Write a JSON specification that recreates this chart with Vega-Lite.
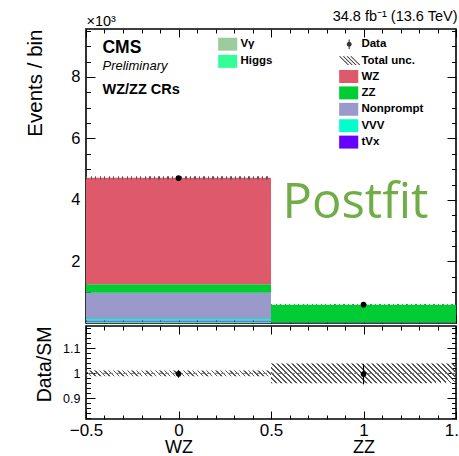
{
  "$schema": "https://vega.github.io/schema/vega-lite/v6.json",
  "autosize": {"type": "pad"},
  "padding": {"left": 24, "top": 8, "right": 0, "bottom": 0},
  "background": "white",
  "params": [
    {
      "name": "hatch",
      "value": [
        {"offset": 0, "color": "#555"}, {"offset": 0.0073, "color": "#555"}, {"offset": 0.0073, "color": "rgba(85,85,85,0)"}, {"offset": 0.0244, "color": "rgba(85,85,85,0)"},
        {"offset": 0.0244, "color": "#555"}, {"offset": 0.0317, "color": "#555"}, {"offset": 0.0317, "color": "rgba(85,85,85,0)"}, {"offset": 0.0488, "color": "rgba(85,85,85,0)"},
        {"offset": 0.0488, "color": "#555"}, {"offset": 0.0561, "color": "#555"}, {"offset": 0.0561, "color": "rgba(85,85,85,0)"}, {"offset": 0.0732, "color": "rgba(85,85,85,0)"},
        {"offset": 0.0732, "color": "#555"}, {"offset": 0.0805, "color": "#555"}, {"offset": 0.0805, "color": "rgba(85,85,85,0)"}, {"offset": 0.0976, "color": "rgba(85,85,85,0)"},
        {"offset": 0.0976, "color": "#555"}, {"offset": 0.1049, "color": "#555"}, {"offset": 0.1049, "color": "rgba(85,85,85,0)"}, {"offset": 0.122, "color": "rgba(85,85,85,0)"},
        {"offset": 0.122, "color": "#555"}, {"offset": 0.1293, "color": "#555"}, {"offset": 0.1293, "color": "rgba(85,85,85,0)"}, {"offset": 0.1463, "color": "rgba(85,85,85,0)"},
        {"offset": 0.1463, "color": "#555"}, {"offset": 0.1536, "color": "#555"}, {"offset": 0.1536, "color": "rgba(85,85,85,0)"}, {"offset": 0.1707, "color": "rgba(85,85,85,0)"},
        {"offset": 0.1707, "color": "#555"}, {"offset": 0.178, "color": "#555"}, {"offset": 0.178, "color": "rgba(85,85,85,0)"}, {"offset": 0.1951, "color": "rgba(85,85,85,0)"},
        {"offset": 0.1951, "color": "#555"}, {"offset": 0.2024, "color": "#555"}, {"offset": 0.2024, "color": "rgba(85,85,85,0)"}, {"offset": 0.2195, "color": "rgba(85,85,85,0)"},
        {"offset": 0.2195, "color": "#555"}, {"offset": 0.2268, "color": "#555"}, {"offset": 0.2268, "color": "rgba(85,85,85,0)"}, {"offset": 0.2439, "color": "rgba(85,85,85,0)"},
        {"offset": 0.2439, "color": "#555"}, {"offset": 0.2512, "color": "#555"}, {"offset": 0.2512, "color": "rgba(85,85,85,0)"}, {"offset": 0.2683, "color": "rgba(85,85,85,0)"},
        {"offset": 0.2683, "color": "#555"}, {"offset": 0.2756, "color": "#555"}, {"offset": 0.2756, "color": "rgba(85,85,85,0)"}, {"offset": 0.2927, "color": "rgba(85,85,85,0)"},
        {"offset": 0.2927, "color": "#555"}, {"offset": 0.3, "color": "#555"}, {"offset": 0.3, "color": "rgba(85,85,85,0)"}, {"offset": 0.3171, "color": "rgba(85,85,85,0)"},
        {"offset": 0.3171, "color": "#555"}, {"offset": 0.3244, "color": "#555"}, {"offset": 0.3244, "color": "rgba(85,85,85,0)"}, {"offset": 0.3415, "color": "rgba(85,85,85,0)"},
        {"offset": 0.3415, "color": "#555"}, {"offset": 0.3488, "color": "#555"}, {"offset": 0.3488, "color": "rgba(85,85,85,0)"}, {"offset": 0.3659, "color": "rgba(85,85,85,0)"},
        {"offset": 0.3659, "color": "#555"}, {"offset": 0.3732, "color": "#555"}, {"offset": 0.3732, "color": "rgba(85,85,85,0)"}, {"offset": 0.3902, "color": "rgba(85,85,85,0)"},
        {"offset": 0.3902, "color": "#555"}, {"offset": 0.3975, "color": "#555"}, {"offset": 0.3975, "color": "rgba(85,85,85,0)"}, {"offset": 0.4146, "color": "rgba(85,85,85,0)"},
        {"offset": 0.4146, "color": "#555"}, {"offset": 0.4219, "color": "#555"}, {"offset": 0.4219, "color": "rgba(85,85,85,0)"}, {"offset": 0.439, "color": "rgba(85,85,85,0)"},
        {"offset": 0.439, "color": "#555"}, {"offset": 0.4463, "color": "#555"}, {"offset": 0.4463, "color": "rgba(85,85,85,0)"}, {"offset": 0.4634, "color": "rgba(85,85,85,0)"},
        {"offset": 0.4634, "color": "#555"}, {"offset": 0.4707, "color": "#555"}, {"offset": 0.4707, "color": "rgba(85,85,85,0)"}, {"offset": 0.4878, "color": "rgba(85,85,85,0)"},
        {"offset": 0.4878, "color": "#555"}, {"offset": 0.4951, "color": "#555"}, {"offset": 0.4951, "color": "rgba(85,85,85,0)"}, {"offset": 0.5122, "color": "rgba(85,85,85,0)"},
        {"offset": 0.5122, "color": "#555"}, {"offset": 0.5195, "color": "#555"}, {"offset": 0.5195, "color": "rgba(85,85,85,0)"}, {"offset": 0.5366, "color": "rgba(85,85,85,0)"},
        {"offset": 0.5366, "color": "#555"}, {"offset": 0.5439, "color": "#555"}, {"offset": 0.5439, "color": "rgba(85,85,85,0)"}, {"offset": 0.561, "color": "rgba(85,85,85,0)"},
        {"offset": 0.561, "color": "#555"}, {"offset": 0.5683, "color": "#555"}, {"offset": 0.5683, "color": "rgba(85,85,85,0)"}, {"offset": 0.5854, "color": "rgba(85,85,85,0)"},
        {"offset": 0.5854, "color": "#555"}, {"offset": 0.5927, "color": "#555"}, {"offset": 0.5927, "color": "rgba(85,85,85,0)"}, {"offset": 0.6098, "color": "rgba(85,85,85,0)"},
        {"offset": 0.6098, "color": "#555"}, {"offset": 0.6171, "color": "#555"}, {"offset": 0.6171, "color": "rgba(85,85,85,0)"}, {"offset": 0.6341, "color": "rgba(85,85,85,0)"},
        {"offset": 0.6341, "color": "#555"}, {"offset": 0.6414, "color": "#555"}, {"offset": 0.6414, "color": "rgba(85,85,85,0)"}, {"offset": 0.6585, "color": "rgba(85,85,85,0)"},
        {"offset": 0.6585, "color": "#555"}, {"offset": 0.6658, "color": "#555"}, {"offset": 0.6658, "color": "rgba(85,85,85,0)"}, {"offset": 0.6829, "color": "rgba(85,85,85,0)"},
        {"offset": 0.6829, "color": "#555"}, {"offset": 0.6902, "color": "#555"}, {"offset": 0.6902, "color": "rgba(85,85,85,0)"}, {"offset": 0.7073, "color": "rgba(85,85,85,0)"},
        {"offset": 0.7073, "color": "#555"}, {"offset": 0.7146, "color": "#555"}, {"offset": 0.7146, "color": "rgba(85,85,85,0)"}, {"offset": 0.7317, "color": "rgba(85,85,85,0)"},
        {"offset": 0.7317, "color": "#555"}, {"offset": 0.739, "color": "#555"}, {"offset": 0.739, "color": "rgba(85,85,85,0)"}, {"offset": 0.7561, "color": "rgba(85,85,85,0)"},
        {"offset": 0.7561, "color": "#555"}, {"offset": 0.7634, "color": "#555"}, {"offset": 0.7634, "color": "rgba(85,85,85,0)"}, {"offset": 0.7805, "color": "rgba(85,85,85,0)"},
        {"offset": 0.7805, "color": "#555"}, {"offset": 0.7878, "color": "#555"}, {"offset": 0.7878, "color": "rgba(85,85,85,0)"}, {"offset": 0.8049, "color": "rgba(85,85,85,0)"},
        {"offset": 0.8049, "color": "#555"}, {"offset": 0.8122, "color": "#555"}, {"offset": 0.8122, "color": "rgba(85,85,85,0)"}, {"offset": 0.8293, "color": "rgba(85,85,85,0)"},
        {"offset": 0.8293, "color": "#555"}, {"offset": 0.8366, "color": "#555"}, {"offset": 0.8366, "color": "rgba(85,85,85,0)"}, {"offset": 0.8537, "color": "rgba(85,85,85,0)"},
        {"offset": 0.8537, "color": "#555"}, {"offset": 0.861, "color": "#555"}, {"offset": 0.861, "color": "rgba(85,85,85,0)"}, {"offset": 0.878, "color": "rgba(85,85,85,0)"},
        {"offset": 0.878, "color": "#555"}, {"offset": 0.8853, "color": "#555"}, {"offset": 0.8853, "color": "rgba(85,85,85,0)"}, {"offset": 0.9024, "color": "rgba(85,85,85,0)"},
        {"offset": 0.9024, "color": "#555"}, {"offset": 0.9097, "color": "#555"}, {"offset": 0.9097, "color": "rgba(85,85,85,0)"}, {"offset": 0.9268, "color": "rgba(85,85,85,0)"},
        {"offset": 0.9268, "color": "#555"}, {"offset": 0.9341, "color": "#555"}, {"offset": 0.9341, "color": "rgba(85,85,85,0)"}, {"offset": 0.9512, "color": "rgba(85,85,85,0)"},
        {"offset": 0.9512, "color": "#555"}, {"offset": 0.9585, "color": "#555"}, {"offset": 0.9585, "color": "rgba(85,85,85,0)"}, {"offset": 0.9756, "color": "rgba(85,85,85,0)"},
        {"offset": 0.9756, "color": "#555"}, {"offset": 0.9829, "color": "#555"}, {"offset": 0.9829, "color": "rgba(85,85,85,0)"}, {"offset": 1, "color": "rgba(85,85,85,0)"}
      ]
    }
  ],
  "datasets": {
    "mc": [
      {"bin": "WZ", "lo": -0.5, "hi": 0.5, "process": "Vγ", "rank": 1, "events": 0.02},
      {"bin": "WZ", "lo": -0.5, "hi": 0.5, "process": "Higgs", "rank": 2, "events": 0.02},
      {"bin": "WZ", "lo": -0.5, "hi": 0.5, "process": "tVx", "rank": 3, "events": 0.04},
      {"bin": "WZ", "lo": -0.5, "hi": 0.5, "process": "VVV", "rank": 4, "events": 0.05},
      {"bin": "WZ", "lo": -0.5, "hi": 0.5, "process": "Nonprompt", "rank": 5, "events": 0.85},
      {"bin": "WZ", "lo": -0.5, "hi": 0.5, "process": "ZZ", "rank": 6, "events": 0.28},
      {"bin": "WZ", "lo": -0.5, "hi": 0.5, "process": "WZ", "rank": 7, "events": 3.46},
      {"bin": "ZZ", "lo": 0.5, "hi": 1.5, "process": "Vγ", "rank": 1, "events": 0.0},
      {"bin": "ZZ", "lo": 0.5, "hi": 1.5, "process": "Higgs", "rank": 2, "events": 0.004},
      {"bin": "ZZ", "lo": 0.5, "hi": 1.5, "process": "tVx", "rank": 3, "events": 0.002},
      {"bin": "ZZ", "lo": 0.5, "hi": 1.5, "process": "VVV", "rank": 4, "events": 0.004},
      {"bin": "ZZ", "lo": 0.5, "hi": 1.5, "process": "Nonprompt", "rank": 5, "events": 0.01},
      {"bin": "ZZ", "lo": 0.5, "hi": 1.5, "process": "ZZ", "rank": 6, "events": 0.572},
      {"bin": "ZZ", "lo": 0.5, "hi": 1.5, "process": "WZ", "rank": 7, "events": 0.005}
    ],
    "tot": [
      {"bin": "WZ", "lo": -0.5, "hi": 0.5, "down": 4.67, "up": 4.77, "unc": "Total unc."},
      {"bin": "ZZ", "lo": 0.5, "hi": 1.5, "down": 0.585, "up": 0.609, "unc": "Total unc."}
    ],
    "obs": [
      {"bin": "WZ", "x": 0, "events": 4.71, "lo": 4.641, "hi": 4.779, "kind": "Data"},
      {"bin": "ZZ", "x": 1, "events": 0.595, "lo": 0.571, "hi": 0.619, "kind": "Data"}
    ],
    "rband": [
      {"bin": "WZ", "lo": -0.5, "hi": 0.5, "down": 0.988, "up": 1.012},
      {"bin": "ZZ", "lo": 0.5, "hi": 1.5, "down": 0.96, "up": 1.04}
    ],
    "ratio": [
      {"bin": "WZ", "x": 0, "ratio": 0.998, "lo": 0.983, "hi": 1.013},
      {"bin": "ZZ", "x": 1, "ratio": 0.997, "lo": 0.956, "hi": 1.038}
    ]
  },
  "spacing": 3,
  "bounds": "flush",
  "vconcat": [
    {
      "width": 370,
      "height": 294,
      "resolve": {"axis": {"x": "independent", "y": "independent"}},
      "layer": [
        {
          "data": {"name": "mc"},
          "transform": [{"stack": "events", "groupby": ["bin"], "sort": [{"field": "rank", "order": "ascending"}], "as": ["y0", "y1"]}],
          "mark": {"type": "bar", "opacity": 1},
          "encoding": {
            "x": {"field": "lo", "type": "quantitative", "scale": {"domain": [-0.5, 1.5], "nice": false, "zero": false},
                  "axis": {"orient": "bottom", "values": [-0.5,-0.4,-0.3,-0.2,-0.1,0,0.1,0.2,0.3,0.4,0.5,0.6,0.7,0.8,0.9,1,1.1,1.2,1.3,1.4,1.5], "labels": false, "title": null,
                           "tickSize": {"condition": {"test": "abs(datum.value*2-round(datum.value*2))<0.01", "value": -8}, "value": -4}}},
            "x2": {"field": "hi"},
            "y": {"field": "y0", "type": "quantitative", "scale": {"domain": [0, 9.56], "nice": false},
                  "axis": {"orient": "left", "values": [2, 4, 6, 8], "ticks": false, "labelPadding": 6, "labelFontSize": 16.5,
                           "title": "Events / bin", "titleFontSize": 20.5, "titleAngle": -90, "titleX": -45, "titleY": 0, "titleAlign": "right", "titleBaseline": "alphabetic"}},
            "y2": {"field": "y1"},
            "color": {"field": "process", "type": "nominal",
                      "scale": {"domain": ["Vγ", "Higgs", "tVx", "VVV", "Nonprompt", "ZZ", "WZ"], "range": ["#9ccc9c", "#33ff99", "#6600ff", "#00ffcc", "#9999cc", "#00cc33", "#de5a6a"]},
                      "legend": {"values": ["WZ", "ZZ", "Nonprompt", "VVV", "tVx"], "title": null, "orient": "none", "legendX": 255.7, "legendY": 40.5,
                                 "symbolType": "M-1.4,-0.95H1.4V0.95H-1.4Z", "symbolSize": 186, "labelOffset": 5.7, "rowPadding": 2.4, "symbolOpacity": 1}}
          }
        },
        {
          "data": {"name": "mc"},
          "transform": [
            {"filter": "datum.rank <= 2"},
            {"stack": "events", "groupby": ["bin"], "sort": [{"field": "rank", "order": "ascending"}], "as": ["y0", "y1"]}
          ],
          "mark": {"type": "bar", "opacity": 1},
          "encoding": {
            "x": {"field": "lo", "type": "quantitative",
                  "axis": {"orient": "top", "values": [-0.5,-0.4,-0.3,-0.2,-0.1,0,0.1,0.2,0.3,0.4,0.5,0.6,0.7,0.8,0.9,1,1.1,1.2,1.3,1.4,1.5], "labels": false, "title": null,
                           "tickSize": {"condition": {"test": "abs(datum.value*2-round(datum.value*2))<0.01", "value": -8}, "value": -4}}},
            "x2": {"field": "hi"},
            "y": {"field": "y0", "type": "quantitative",
                  "axis": {"orient": "left", "values": [0.5,1,1.5,2,2.5,3,3.5,4,4.5,5,5.5,6,6.5,7,7.5,8,8.5,9,9.5], "labels": false,
                           "tickSize": {"condition": {"test": "abs(datum.value/2-round(datum.value/2))<0.01", "value": -9}, "value": -4.5},
                           "title": "×10³", "titleFontSize": 14.5, "titleAngle": 0, "titleX": 0, "titleY": -4, "titleAlign": "left", "titleBaseline": "alphabetic"}},
            "y2": {"field": "y1"},
            "fill": {"field": "process", "type": "nominal",
                     "scale": {"domain": ["Vγ", "Higgs"], "range": ["#9ccc9c", "#33ff99"]},
                     "legend": {"title": null, "orient": "none", "legendX": 134.7, "legendY": 8.2,
                                "symbolType": "M-1.4,-0.95H1.4V0.95H-1.4Z", "symbolSize": 186, "labelOffset": 5.7, "rowPadding": 3.2, "symbolOpacity": 1}}
          }
        },
        {
          "data": {"name": "tot"},
          "mark": {"type": "rect", "fill": {"expr": "{gradient: 'linear', x1: 0, y1: 0, x2: 1, y2: 0, stops: hatch}"}},
          "encoding": {
            "x": {"field": "lo", "type": "quantitative", "axis": null},
            "x2": {"field": "hi"},
            "y": {"field": "down", "type": "quantitative",
                  "axis": {"orient": "right", "values": [0.5,1,1.5,2,2.5,3,3.5,4,4.5,5,5.5,6,6.5,7,7.5,8,8.5,9,9.5], "labels": false, "title": null,
                           "tickSize": {"condition": {"test": "abs(datum.value/2-round(datum.value/2))<0.01", "value": -9}, "value": -4.5}}},
            "y2": {"field": "up"}
          }
        },
        {
          "data": {"name": "obs"},
          "mark": {"type": "rule", "color": "black", "strokeWidth": 1.2},
          "encoding": {
            "x": {"field": "x", "type": "quantitative", "axis": null},
            "y": {"field": "lo", "type": "quantitative", "axis": null},
            "y2": {"field": "hi"}
          }
        },
        {
          "data": {"name": "obs"},
          "mark": {"type": "point", "filled": true, "color": "black", "size": 32, "opacity": 1},
          "encoding": {
            "x": {"field": "x", "type": "quantitative", "axis": null},
            "y": {"field": "events", "type": "quantitative", "axis": null}
          }
        },
        {
          "data": {"name": "obs"},
          "mark": {"type": "point", "filled": true, "color": "#333", "opacity": 0},
          "encoding": {
            "x": {"field": "x", "type": "quantitative", "axis": null},
            "y": {"field": "events", "type": "quantitative", "axis": null},
            "shape": {"field": "kind", "type": "nominal",
                      "scale": {"domain": ["Data", "Total unc."],
                                "range": ["M-0.08,-0.7H0.08V0.7H-0.08ZM0.36,0A0.36,0.36,0,1,1,-0.36,0A0.36,0.36,0,1,1,0.36,0Z",
                                          "M-1.5,-0.65L-1.32,-0.65L-0.02,0.65L-0.2,0.65ZM-0.95,-0.65L-0.77,-0.65L0.53,0.65L0.35,0.65ZM-0.4,-0.65L-0.22,-0.65L1.08,0.65L0.9,0.65ZM0.15,-0.65L0.33,-0.65L1.63,0.65L1.45,0.65Z"]},
                      "legend": {"title": null, "orient": "none", "legendX": 256.2, "legendY": 8.2, "symbolSize": 186, "symbolOpacity": 1,
                                 "symbolFillColor": "#222", "symbolStrokeWidth": 0, "labelOffset": 5.2, "rowPadding": 3.4}}
          }
        },
        {
          "data": {"values": [{}]},
          "mark": {"type": "text", "text": "34.8 fb⁻¹ (13.6 TeV)", "font": "Liberation Sans", "fontSize": 14.5, "align": "right", "baseline": "alphabetic", "color": "black"},
          "encoding": {"x": {"datum": 1.508, "type": "quantitative", "axis": null}, "y": {"datum": 9.804, "type": "quantitative", "axis": null}}
        },
        {
          "data": {"values": [{}]},
          "mark": {"type": "text", "text": "CMS", "font": "Liberation Sans", "fontWeight": "bold", "fontSize": 17.5, "align": "left", "baseline": "alphabetic", "color": "black"},
          "encoding": {"x": {"datum": -0.411, "type": "quantitative", "axis": null}, "y": {"datum": 8.78, "type": "quantitative", "axis": null}}
        },
        {
          "data": {"values": [{}]},
          "mark": {"type": "text", "text": "Preliminary", "font": "Liberation Sans", "fontStyle": "italic", "fontSize": 13, "align": "left", "baseline": "alphabetic", "color": "black"},
          "encoding": {"x": {"datum": -0.411, "type": "quantitative", "axis": null}, "y": {"datum": 8.23, "type": "quantitative", "axis": null}}
        },
        {
          "data": {"values": [{}]},
          "mark": {"type": "text", "text": "WZ/ZZ CRs", "font": "Liberation Sans", "fontWeight": "bold", "fontSize": 14.5, "align": "left", "baseline": "alphabetic", "color": "black"},
          "encoding": {"x": {"datum": -0.411, "type": "quantitative", "axis": null}, "y": {"datum": 7.445, "type": "quantitative", "axis": null}}
        },
        {
          "data": {"values": [{}]},
          "mark": {"type": "text", "text": "Postfit", "font": "Open Sans", "fontSize": 49, "align": "left", "baseline": "alphabetic", "color": "#70ad47"},
          "encoding": {"x": {"datum": 0.562, "type": "quantitative", "axis": null}, "y": {"datum": 3.4, "type": "quantitative", "axis": null}}
        }
      ]
    },
    {
      "width": 370,
      "height": 93,
      "resolve": {"axis": {"x": "independent", "y": "independent"}},
      "layer": [
        {
          "data": {"name": "rband"},
          "transform": [{"filter": "datum.bin === 'WZ'"}],
          "mark": {"type": "rect", "fill": {"expr": "{gradient: 'linear', x1: 0, y1: 1, x2: 1.0313, y2: 0.9666, stops: hatch}"}},
          "encoding": {
            "x": {"field": "lo", "type": "quantitative", "scale": {"domain": [-0.5, 1.5], "nice": false, "zero": false},
                  "axis": {"orient": "bottom", "values": [-0.5, 0, 0.5, 1, 1.5], "format": "~g", "ticks": false, "labelPadding": 3, "labelFontSize": 17, "labelFlush": false, "labelOverlap": false, "title": null}},
            "x2": {"field": "hi"},
            "y": {"field": "down", "type": "quantitative", "scale": {"domain": [0.817, 1.19], "nice": false, "zero": false},
                  "axis": {"orient": "left", "values": [0.9, 1, 1.1], "format": "~g", "ticks": false, "labelPadding": 6, "labelFontSize": 12.5,
                           "title": "Data/SM", "titleFontSize": 19.5, "titleAngle": -90, "titleX": -36, "titleY": 0, "titleAlign": "right", "titleBaseline": "alphabetic"}},
            "y2": {"field": "up"}
          }
        },
        {
          "data": {"name": "rband"},
          "transform": [{"filter": "datum.bin === 'ZZ'"}],
          "mark": {"type": "rect", "fill": {"expr": "{gradient: 'linear', x1: 0, y1: 1, x2: 1.0945, y2: 0.8829, stops: hatch}"}},
          "encoding": {
            "x": {"field": "lo", "type": "quantitative",
                  "axis": {"orient": "bottom", "values": [-0.5,-0.4,-0.3,-0.2,-0.1,0,0.1,0.2,0.3,0.4,0.5,0.6,0.7,0.8,0.9,1,1.1,1.2,1.3,1.4,1.5], "labels": false, "title": null,
                           "tickSize": {"condition": {"test": "abs(datum.value*2-round(datum.value*2))<0.01", "value": -8}, "value": -4}}},
            "x2": {"field": "hi"},
            "y": {"field": "down", "type": "quantitative",
                  "axis": {"orient": "left", "values": [0.82,0.84,0.86,0.88,0.9,0.92,0.94,0.96,0.98,1,1.02,1.04,1.06,1.08,1.1,1.12,1.14,1.16,1.18], "labels": false, "title": null,
                           "tickSize": {"condition": {"test": "abs(datum.value*10-round(datum.value*10))<0.01", "value": -9}, "value": -4.5}}},
            "y2": {"field": "up"}
          }
        },
        {
          "data": {"values": [{}]},
          "mark": {"type": "rule", "color": "#777", "strokeDash": [4, 3], "strokeWidth": 1},
          "encoding": {
            "y": {"datum": 1, "type": "quantitative",
                  "axis": {"orient": "right", "values": [0.82,0.84,0.86,0.88,0.9,0.92,0.94,0.96,0.98,1,1.02,1.04,1.06,1.08,1.1,1.12,1.14,1.16,1.18], "labels": false, "title": null,
                           "tickSize": {"condition": {"test": "abs(datum.value*10-round(datum.value*10))<0.01", "value": -9}, "value": -4.5}}}
          }
        },
        {
          "data": {"name": "ratio"},
          "mark": {"type": "rule", "color": "black", "strokeWidth": 1.2},
          "encoding": {
            "x": {"field": "x", "type": "quantitative",
                  "axis": {"orient": "top", "values": [-0.5,-0.4,-0.3,-0.2,-0.1,0,0.1,0.2,0.3,0.4,0.5,0.6,0.7,0.8,0.9,1,1.1,1.2,1.3,1.4,1.5], "labels": false, "title": null,
                           "tickSize": {"condition": {"test": "abs(datum.value*2-round(datum.value*2))<0.01", "value": -8}, "value": -4}}},
            "y": {"field": "lo", "type": "quantitative", "axis": null},
            "y2": {"field": "hi"}
          }
        },
        {
          "data": {"name": "ratio"},
          "mark": {"type": "point", "filled": true, "color": "black", "size": 32, "opacity": 1},
          "encoding": {
            "x": {"field": "x", "type": "quantitative",
                  "axis": {"orient": "bottom", "values": [0, 1], "labelExpr": "datum.value < 0.5 ? 'WZ' : 'ZZ'", "ticks": false, "labelPadding": 19, "labelFontSize": 18, "labelFlush": false, "title": null}},
            "y": {"field": "ratio", "type": "quantitative", "axis": null}
          }
        }
      ]
    }
  ],
  "config": {
    "view": {"stroke": "black", "strokeWidth": 1.6},
    "font": "Liberation Sans",
    "axis": {"domain": false, "grid": false, "labelFont": "Liberation Sans", "titleFont": "Liberation Sans", "labelColor": "black", "titleColor": "black",
             "tickColor": "black", "tickWidth": 1, "titleFontWeight": "normal"},
    "legend": {"labelFont": "Liberation Sans", "labelFontWeight": "bold", "labelFontSize": 11.5, "labelColor": "black", "padding": 0, "symbolStrokeWidth": 0}
  }
}
